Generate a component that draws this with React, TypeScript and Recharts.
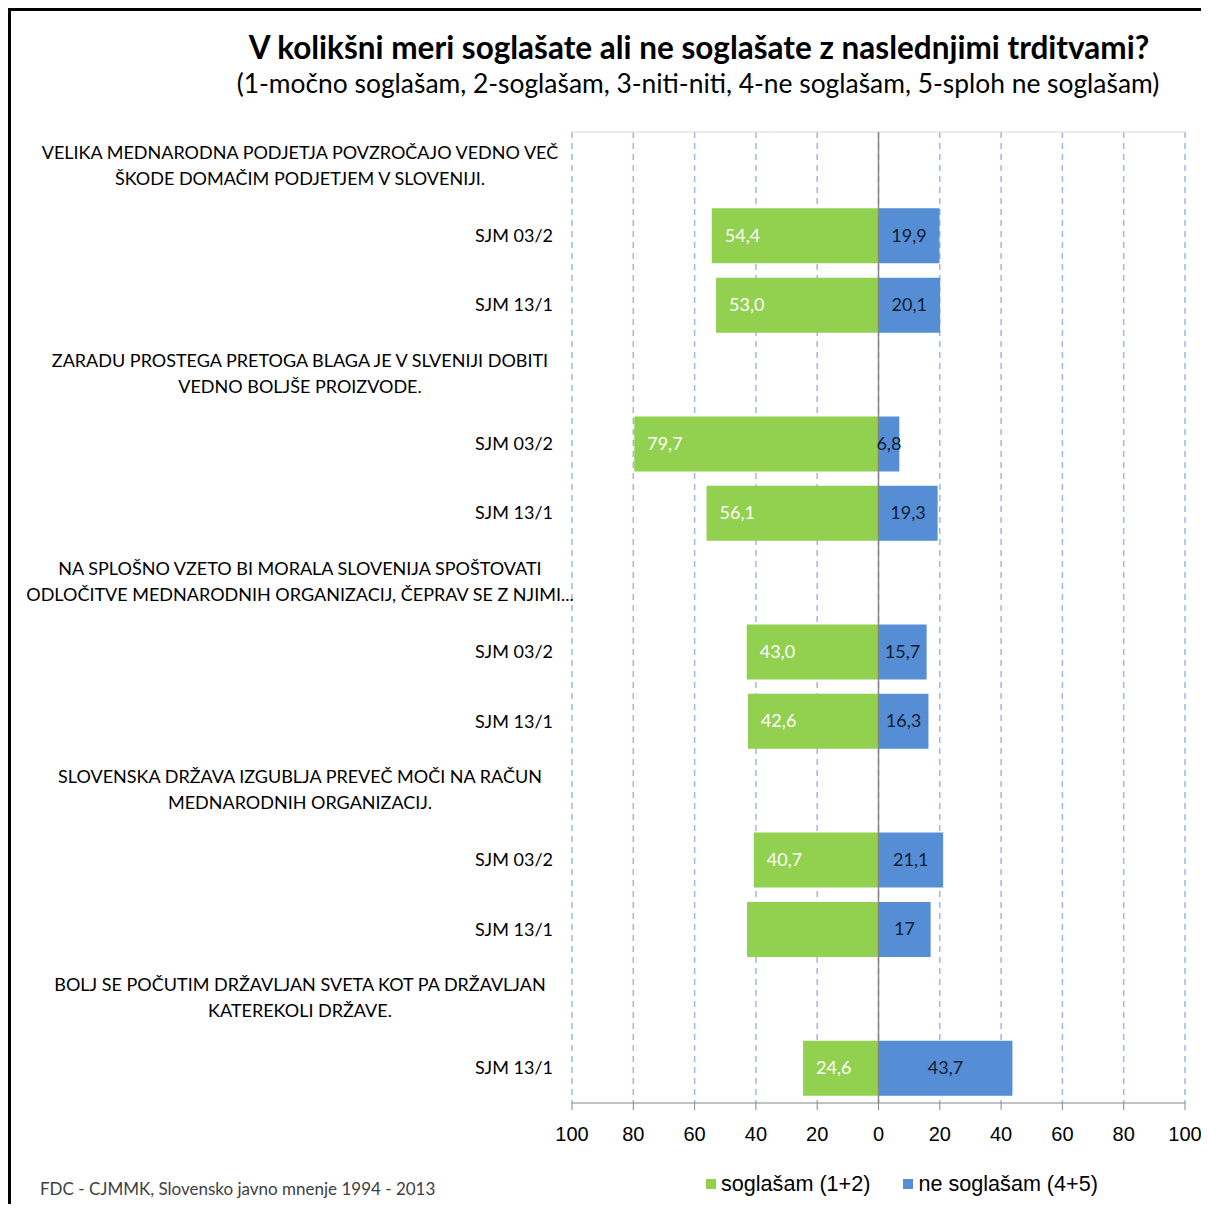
import React from "react";
import {
  BarChart,
  Bar,
  XAxis,
  YAxis,
  CartesianGrid,
  ReferenceLine,
  LabelList,
} from "recharts";

// ---------- data ----------
const statements: string[][] = [
  ["VELIKA MEDNARODNA PODJETJA POVZROČAJO VEDNO VEČ", "ŠKODE DOMAČIM PODJETJEM V SLOVENIJI."],
  ["ZARADU PROSTEGA PRETOGA BLAGA JE V SLVENIJI DOBITI", "VEDNO BOLJŠE PROIZVODE."],
  ["NA SPLOŠNO VZETO BI MORALA SLOVENIJA SPOŠTOVATI", "ODLOČITVE MEDNARODNIH ORGANIZACIJ, ČEPRAV SE Z NJIMI..."],
  ["SLOVENSKA DRŽAVA IZGUBLJA PREVEČ MOČI NA RAČUN", "MEDNARODNIH ORGANIZACIJ."],
  ["BOLJ SE POČUTIM DRŽAVLJAN SVETA KOT PA DRŽAVLJAN", "KATEREKOLI DRŽAVE."],
];
const waves: string[][] = [
  ["SJM 03/2", "SJM 13/1"],
  ["SJM 03/2", "SJM 13/1"],
  ["SJM 03/2", "SJM 13/1"],
  ["SJM 03/2", "SJM 13/1"],
  ["SJM 13/1"],
];
const agree: number[][] = [
  [54.4, 53.0],
  [79.7, 56.1],
  [43.0, 42.6],
  [40.7, 42.9],
  [24.6],
];
const disagree: number[][] = [
  [19.9, 20.1],
  [6.8, 19.3],
  [15.7, 16.3],
  [21.1, 17],
  [43.7],
];
const agreeLabels: string[][] = [
  ["54,4", "53,0"],
  ["79,7", "56,1"],
  ["43,0", "42,6"],
  ["40,7", ""],
  ["24,6"],
];
const disagreeLabels: string[][] = [
  ["19,9", "20,1"],
  ["6,8", "19,3"],
  ["15,7", "16,3"],
  ["21,1", "17"],
  ["43,7"],
];
const xTicks = [-100, -80, -60, -40, -20, 0, 20, 40, 60, 80, 100];
const seriesNames = ["soglašam (1+2)", "ne soglašam (4+5)"];
const title = "V kolikšni meri soglašate ali ne soglašate z naslednjimi trditvami?";
const subtitle = "(1-močno soglašam, 2-soglašam, 3-niti-niti, 4-ne soglašam, 5-sploh ne soglašam)";
const source = "FDC - CJMMK, Slovensko javno mnenje 1994 - 2013";

const GREEN = "#92D050";
const BLUE = "#558ED5";
const CAL = "Lato, 'Open Sans', sans-serif";
const ARIAL = "'Liberation Sans', Arial, sans-serif";

type Row = {
  key: string;
  header: string[] | null;
  wave: string;
  agree: number | null;
  disagree: number | null;
  agreeLabel: string;
  disagreeLabel: string;
};

const rows: Row[] = [];
statements.forEach((lines, i) => {
  rows.push({ key: `h${i}`, header: lines, wave: "", agree: null, disagree: null, agreeLabel: "", disagreeLabel: "" });
  waves[i].forEach((w, j) => {
    rows.push({
      key: `r${i}_${j}`,
      header: null,
      wave: w,
      agree: -agree[i][j],
      disagree: disagree[i][j],
      agreeLabel: agreeLabels[i][j],
      disagreeLabel: disagreeLabels[i][j],
    });
  });
});

const rowByKey: Record<string, Row> = {};
rows.forEach((r) => (rowByKey[r.key] = r));

const YTick = (props: any) => {
  const { x, y, payload } = props;
  const row = rowByKey[payload.value];
  if (!row) return null;
  if (row.header) {
    const cx = x - 253;
    return (
      <text x={cx} y={y} textAnchor="middle" fontFamily={CAL} fontSize={18} fill="#000">
        <tspan x={cx} dy={-8}>{row.header[0]}</tspan>
        <tspan x={cx} dy={26}>{row.header[1]}</tspan>
      </text>
    );
  }
  return (
    <text x={x} y={y} dy={6} textAnchor="end" fontFamily={CAL} fontSize={18} fill="#000">
      {row.wave}
    </text>
  );
};

const GreenLabel = (props: any) => {
  const { x, y, width, height, value } = props;
  if (!value) return null;
  const left = Math.min(x, x + width);
  return (
    <text x={left + 13} y={y + height / 2} dy={6} fontFamily={CAL} fontSize={18} fill="#fff">
      {value}
    </text>
  );
};

const BlueLabel = (props: any) => {
  const { x, y, width, height, value } = props;
  if (!value) return null;
  const left = Math.min(x, x + width);
  return (
    <text
      x={left + Math.abs(width) / 2}
      y={y + height / 2}
      dy={6}
      textAnchor="middle"
      fontFamily={CAL}
      fontSize={18}
      fill="#0f1c33"
    >
      {value}
    </text>
  );
};

export default function App() {
  return (
    <div style={{ position: "relative", height: 1196 }}>
      <svg
        width={1209}
        height={1212}
        style={{ position: "absolute", left: -8, top: -8, pointerEvents: "none" }}
      >
        <line x1={9.5} y1={9.5} x2={1209} y2={9.5} stroke="#000" strokeWidth={3} />
        <line x1={9.5} y1={8} x2={9.5} y2={1212} stroke="#000" strokeWidth={3} />
      </svg>
      <div style={{ position: "absolute", left: -8, top: -8, width: 1209, height: 1212 }}>
        <BarChart
          width={1209}
          height={1212}
          data={rows}
          layout="vertical"
          stackOffset="sign"
          margin={{ top: 132, right: 24, left: 0, bottom: 49 }}
          barSize={55}
        >
          <CartesianGrid
            stroke="#9DB7E6"
            strokeDasharray="6 5"
            strokeWidth={1.5}
            horizontal={false}
          />
          <CartesianGrid
            stroke="#D9D9D9"
            vertical={false}
            horizontalCoordinatesGenerator={(p: any) => [p.offset.top]}
          />
          <XAxis
            type="number"
            domain={[-100, 100]}
            ticks={xTicks}
            tickFormatter={(v: number) => String(Math.abs(v))}
            stroke="#868686"
            tickSize={7}
            tickMargin={17}
            height={60}
            tick={{ fill: "#000", fontSize: 20, fontFamily: ARIAL }}
            interval={0}
            allowDataOverflow
          />
          <YAxis
            type="category"
            dataKey="key"
            width={572}
            axisLine={false}
            tickLine={false}
            tickSize={0}
            tickMargin={19}
            interval={0}
            tick={<YTick />}
          />
          <Bar dataKey="agree" stackId="a" fill={GREEN} isAnimationActive={false} name={seriesNames[0]}>
            <LabelList dataKey="agreeLabel" content={<GreenLabel />} />
          </Bar>
          <Bar dataKey="disagree" stackId="a" fill={BLUE} isAnimationActive={false} name={seriesNames[1]}>
            <LabelList dataKey="disagreeLabel" content={<BlueLabel />} />
          </Bar>
          <ReferenceLine x={0} stroke="#868686" strokeWidth={1.5} />
        </BarChart>
      </div>

      <div
        style={{
          position: "absolute",
          left: 699 - 8 - 600,
          width: 1200,
          top: 27 - 8,
          textAlign: "center",
          fontFamily: CAL,
          fontWeight: 700,
          fontSize: 31.5,
          lineHeight: "40px",
          color: "#000",
          whiteSpace: "nowrap",
        }}
      >
        {title}
      </div>
      <div
        style={{
          position: "absolute",
          left: 698 - 8 - 600,
          width: 1200,
          top: 66 - 8,
          textAlign: "center",
          fontFamily: CAL,
          fontSize: 26.4,
          lineHeight: "34px",
          color: "#000",
          whiteSpace: "nowrap",
        }}
      >
        {subtitle}
      </div>

      <div
        style={{
          position: "absolute",
          left: 706 - 8,
          top: 1171 - 8,
          display: "flex",
          alignItems: "center",
          fontFamily: ARIAL,
          fontSize: 21.6,
          lineHeight: "26px",
          color: "#000",
          whiteSpace: "nowrap",
        }}
      >
        {seriesNames.map((n, i) => (
          <div key={n} style={{ display: "flex", alignItems: "center", marginRight: i === 0 ? 33 : 0 }}>
            <span
              style={{
                display: "inline-block",
                width: 10,
                height: 10,
                background: i === 0 ? GREEN : BLUE,
                marginRight: 5,
              }}
            />
            <span>{n}</span>
          </div>
        ))}
      </div>

      <div
        style={{
          position: "absolute",
          left: 40 - 8,
          top: 1178 - 8,
          fontFamily: CAL,
          fontSize: 17,
          lineHeight: "22px",
          color: "#404040",
          whiteSpace: "nowrap",
        }}
      >
        {source}
      </div>
    </div>
  );
}
